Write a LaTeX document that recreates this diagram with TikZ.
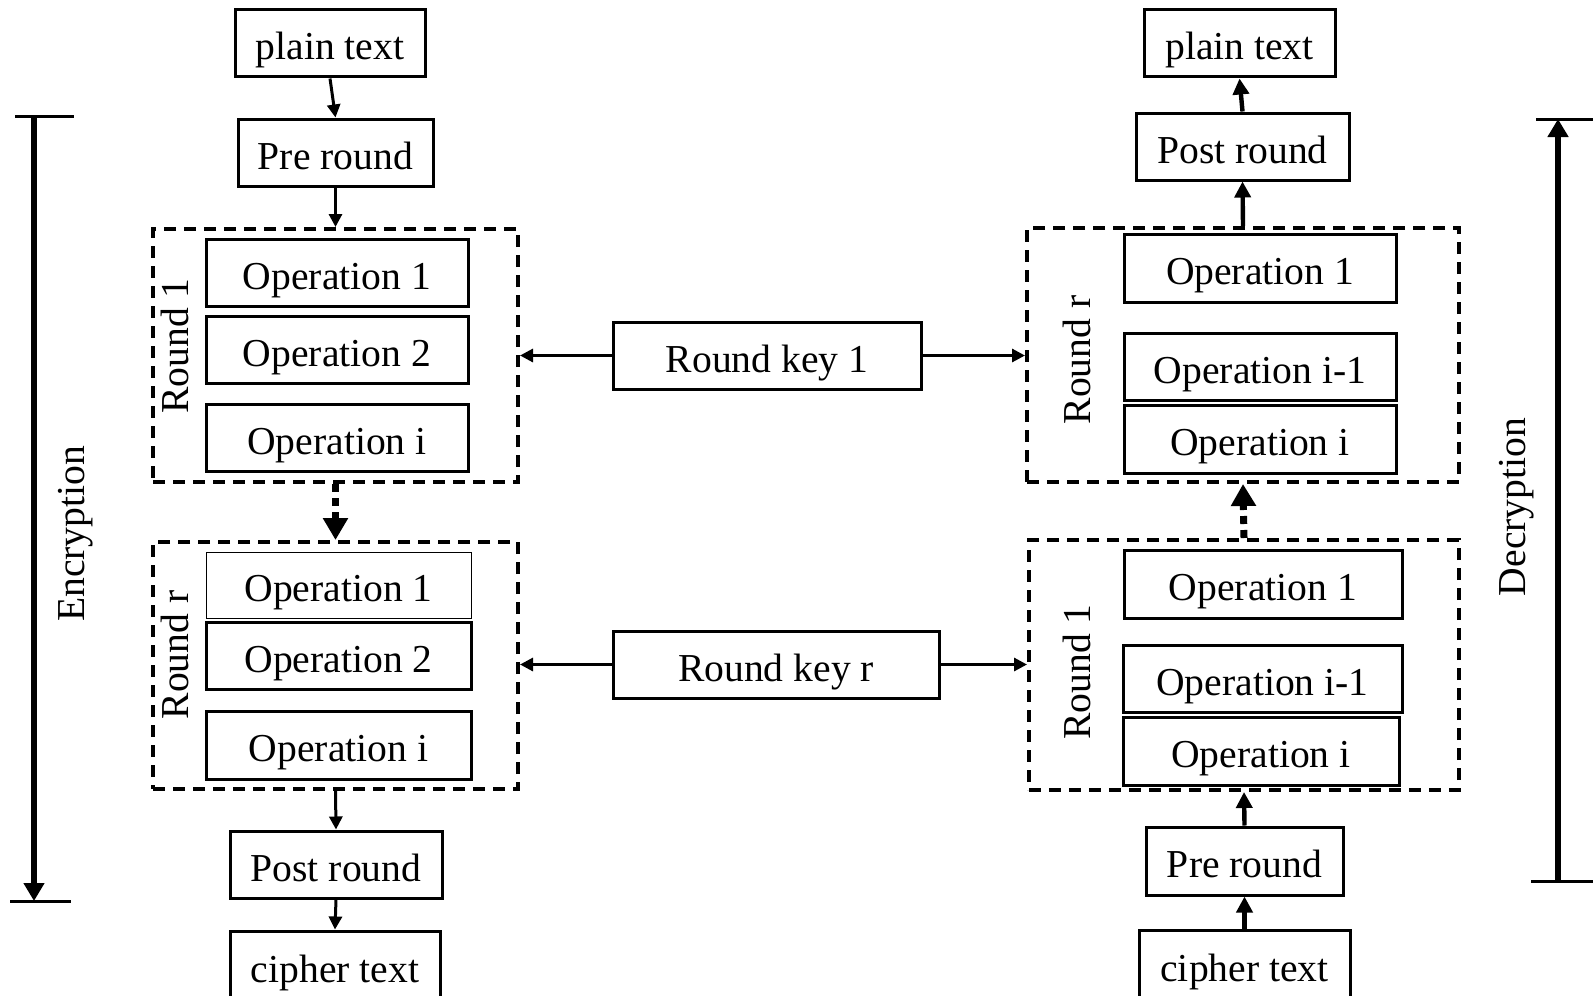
\documentclass[tikz,border=0pt]{standalone}
\usepackage{fontspec}
\setmainfont{Liberation Serif}
\usetikzlibrary{arrows.meta}
\begin{document}
\begin{tikzpicture}[x=0.5pt,y=-0.5pt,
  font=\fontsize{19.8}{22}\selectfont,
  box/.style={draw,line width=1.5pt,inner sep=0pt,minimum height=33.5pt,text height=16.5pt,text depth=0pt},
  thinbox/.style={box,line width=0.5pt},
  roundbox/.style={draw,line width=2pt,dash pattern=on 6pt off 4pt,inner sep=0pt},
  lbl/.style={rotate=90,inner sep=0pt},
  arr/.style={line width=1.5pt,-{Triangle[length=6.5pt,width=6.5pt]}},
  arrb/.style={line width=2.2pt,-{Triangle[length=8pt,width=8pt]}},
  darr/.style={line width=3.5pt,dash pattern=on 4pt off 3pt,-{Triangle[length=11pt,width=12pt]}},
  bar/.style={line width=1.5pt},
  span/.style={line width=3pt,-{Triangle[length=9pt,width=10pt]}}]
\useasboundingbox (0,0) rectangle (1593,995);

% encryption column
\node[box,minimum width=95pt] (lpt) at (330,43.5) {plain text};
\node[box,minimum width=97.5pt] (lpre) at (335.5,152.5) {Pre round};
\node[roundbox,minimum width=182.5pt,minimum height=126.5pt] (lr1) at (335.5,355.5) {};
\node[box,minimum width=131pt] (lo11) at (337,272.5) {Operation 1};
\node[box,minimum width=131pt] (lo12) at (337,349.5) {Operation 2};
\node[box,minimum width=131pt] (lo1i) at (337,437.5) {Operation i};
\node[lbl] (lr1l) at (175,346) {Round 1};
\node[roundbox,minimum width=182.5pt,minimum height=123.5pt] (lrr) at (335.5,665.5) {};
\node[thinbox,minimum width=132.5pt,minimum height=33pt] (lor1) at (338.5,585) {Operation 1};
\node[box,minimum width=132.5pt] (lor2) at (338.5,655.5) {Operation 2};
\node[box,minimum width=132.5pt,minimum height=34pt] (lori) at (338.5,745) {Operation i};
\node[lbl] (lrrl) at (175,655) {Round r};
\node[box,minimum width=106pt] (lpost) at (336,864.5) {Post round};
\node[box,minimum width=105pt,minimum height=35pt] (lct) at (335,966) {cipher text};

% round keys
\node[box,minimum width=154pt] (k1) at (767,355.5) {Round key 1};
\node[box,minimum width=163pt] (kr) at (776,664.5) {Round key r};

% decryption column
\node[box,minimum width=95.5pt] (rpt) at (1239.5,43.5) {plain text};
\node[box,minimum width=106.5pt] (rpost) at (1242.5,146.5) {Post round};
\node[roundbox,minimum width=216pt,minimum height=127pt] (rrr) at (1243,355) {};
\node[box,minimum width=136pt,minimum height=34pt] (ro1) at (1260,268) {Operation 1};
\node[box,minimum width=136pt] (roi1) at (1260,366.5) {Operation i-1};
\node[box,minimum width=136pt,minimum height=34pt] (roi) at (1260,439) {Operation i};
\node[lbl] (rrrl) at (1077,360) {Round r};
\node[roundbox,minimum width=215pt,minimum height=125pt] (rr1) at (1244,665) {};
\node[box,minimum width=139pt,minimum height=34pt] (r1o1) at (1263,584) {Operation 1};
\node[box,minimum width=139.5pt] (r1oi1) at (1262.5,678.5) {Operation i-1};
\node[box,minimum width=138pt,minimum height=34pt] (r1oi) at (1261,751) {Operation i};
\node[lbl] (rr1l) at (1077,672) {Round 1};
\node[box,minimum width=98.5pt,minimum height=34pt] (rpre) at (1244.5,861) {Pre round};
\node[box,minimum width=105.5pt,minimum height=35pt] (rct) at (1244.5,965) {cipher text};

% flow through the encryption rounds
\draw[arr] (lpt.south) -- (lpre.north);
\draw[arr] (lpre.south) -- (lr1.north);
\draw[darr] (lr1.south) -- (lrr.north);
\draw[arr] (lrr.south) -- (lpost.north);
\draw[arr] (lpost.south) -- (lct.north);

% flow through the decryption rounds
\draw[arrb] (rct.north) -- (rpre.south);
\draw[arrb] (rpre.north) -- (rr1.south);
\draw[darr] (rr1.north) -- (rrr.south);
\draw[arrb] (rrr.north) -- (rpost.south);
\draw[arrb] (rpost.north) -- (rpt.south);

% round keys feed both sides
\draw[arr] (k1.west) -- (lr1.east |- k1.west);
\draw[arr] (k1.east) -- (rrr.west |- k1.east);
\draw[arr] (kr.west) -- (lrr.east |- kr.west);
\draw[arr] (kr.east) -- (rr1.west |- kr.east);

% encryption span
\coordinate (ea) at (34,116);
\coordinate (eb) at (34,901);
\draw[bar] (15,116) -- (74,116);
\draw[bar] (10,901) -- (71,901);
\draw[span] (ea) -- (eb);
\node[lbl] (enc) at (76,534) {Encryption};

% decryption span
\coordinate (da) at (1558,881);
\coordinate (db) at (1558,119);
\draw[bar] (1536,119) -- (1593,119);
\draw[bar] (1531,881) -- (1593,881);
\draw[span] (da) -- (db);
\node[lbl] (dec) at (1517,507) {Decryption};
\end{tikzpicture}
\end{document}
